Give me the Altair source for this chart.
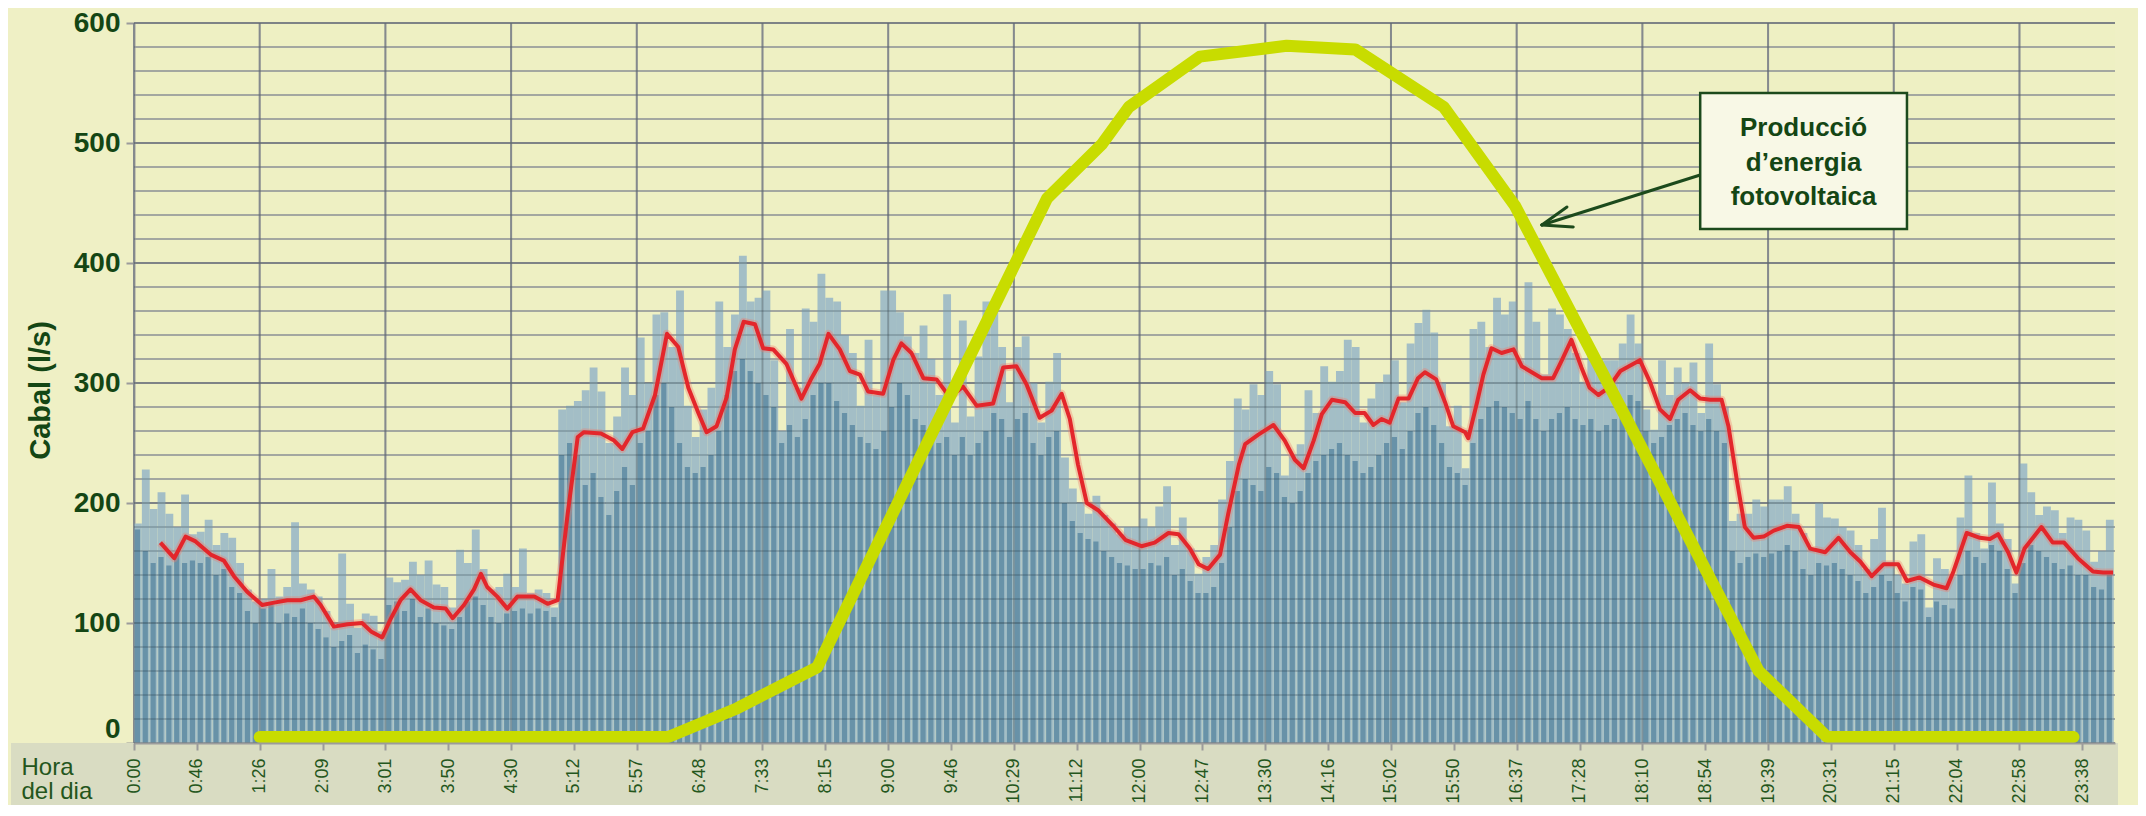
import altair as alt
import pandas as pd

# ---------------- data ----------------
time_labels = ["0:00", "0:46", "1:26", "2:09", "3:01", "3:50", "4:30", "5:12",
               "5:57", "6:48", "7:33", "8:15", "9:00", "9:46", "10:29", "11:12",
               "12:00", "12:47", "13:30", "14:16", "15:02", "15:50", "16:37", "17:28",
               "18:10", "18:54", "19:39", "20:31", "21:15", "22:04", "22:58", "23:38"]

# flow spikes (light bars), 8 readings per label interval
peak = [183, 228, 195, 209, 191, 180, 207, 174,
        176, 186, 165, 175, 171, 150, 128, 118,
        120, 145, 122, 130, 184, 133, 128, 122,
        110, 96, 158, 116, 96, 108, 106, 93,
        138, 134, 136, 151, 140, 152, 132, 130,
        113, 161, 150, 178, 145, 128, 130, 141,
        130, 162, 125, 128, 125, 113, 278, 281,
        285, 294, 313, 293, 250, 272, 313, 290,
        338, 300, 357, 359, 330, 377, 281, 255,
        278, 296, 368, 330, 357, 406, 368, 371,
        377, 319, 260, 345, 296, 362, 351, 391,
        371, 368, 340, 325, 281, 336, 290, 377,
        377, 359, 339, 325, 348, 320, 290, 374,
        267, 352, 272, 322, 368, 362, 330, 284,
        330, 339, 300, 267, 301, 325, 238, 212,
        200, 191, 206, 190, 183, 174, 180, 180,
        187, 180, 197, 214, 165, 188, 162, 141,
        155, 165, 203, 235, 287, 278, 299, 290,
        310, 299, 223, 240, 249, 294, 275, 314,
        301, 310, 336, 330, 267, 287, 300, 307,
        319, 284, 333, 350, 361, 342, 300, 264,
        281, 229, 345, 351, 330, 371, 357, 368,
        319, 384, 351, 307, 362, 357, 345, 325,
        301, 330, 320, 319, 319, 333, 357, 333,
        278, 261, 319, 290, 313, 300, 317, 275,
        333, 299, 280, 185, 191, 191, 203, 197,
        203, 203, 214, 191, 175, 162, 200, 188,
        187, 180, 177, 165, 145, 170, 196, 151,
        140, 133, 168, 174, 113, 154, 145, 139,
        188, 223, 175, 162, 217, 183, 170, 133,
        233, 209, 190, 197, 194, 175, 188, 186,
        177, 151, 160, 186]

# flow body (dark bars)
body = [178, 160, 150, 155, 148, 158, 150, 152,
        150, 155, 140, 145, 130, 125, 110, 100,
        112, 115, 100, 108, 105, 112, 100, 95,
        88, 80, 85, 90, 75, 82, 78, 70,
        115, 118, 110, 120, 105, 112, 100, 98,
        95, 105, 118, 122, 115, 105, 100, 108,
        110, 112, 108, 112, 110, 105, 240, 250,
        240, 215, 225, 205, 190, 210, 230, 215,
        250, 260, 290, 300, 280, 250, 230, 225,
        230, 240, 260, 290, 310, 320, 310, 300,
        290, 280, 250, 265, 255, 270, 290, 300,
        300, 285, 275, 265, 255, 250, 245, 260,
        280, 300, 290, 270, 265, 260, 250, 255,
        240, 255, 240, 250, 260, 275, 270, 255,
        270, 275, 250, 240, 255, 260, 200, 185,
        175, 170, 168, 160, 155, 150, 148, 145,
        145, 150, 148, 155, 140, 145, 135, 125,
        125, 130, 150, 180, 210, 220, 215, 210,
        230, 225, 205, 200, 210, 225, 235, 240,
        245, 250, 240, 235, 225, 230, 240, 250,
        255, 245, 260, 275, 280, 265, 250, 230,
        225, 215, 250, 270, 280, 285, 280, 275,
        270, 285, 270, 260, 270, 275, 280, 270,
        265, 270, 260, 265, 270, 275, 290, 285,
        260, 250, 255, 265, 270, 275, 265, 260,
        270, 260, 250, 160, 150, 155, 158, 155,
        158, 160, 165, 160, 145, 140, 150, 148,
        150, 145, 140, 135, 125, 130, 140, 135,
        125, 118, 130, 128, 105, 118, 115, 112,
        140, 160, 155, 150, 165, 160, 145, 125,
        150, 165, 160, 155, 150, 145, 148, 140,
        140, 130, 128, 140]

# moving average (red line): position in label units, value
red_t = [0.42, 0.64, 0.82, 0.98, 1.22, 1.43, 1.59, 1.80, 2.04, 2.23, 2.44, 2.65, 2.86, 2.97,
         3.18, 3.40, 3.63, 3.77, 3.95, 4.08, 4.24, 4.40, 4.56, 4.77, 4.96, 5.07, 5.25, 5.41,
         5.52, 5.62, 5.78, 5.94, 6.10, 6.37, 6.58, 6.74, 6.90, 7.06, 7.16, 7.43, 7.64, 7.77,
         7.93, 8.10, 8.29, 8.48, 8.66, 8.82, 8.98, 9.11, 9.27, 9.43, 9.56, 9.70, 9.88, 10.01,
         10.17, 10.38, 10.62, 10.78, 10.91, 11.05, 11.23, 11.39, 11.55, 11.68, 11.92, 12.08,
         12.21, 12.37, 12.56, 12.77, 12.98, 13.19, 13.41, 13.67, 13.83, 14.04, 14.20, 14.41,
         14.60, 14.76, 14.89, 15.02, 15.16, 15.34, 15.58, 15.78, 16.03, 16.24, 16.46, 16.62,
         16.80, 16.94, 17.09, 17.28, 17.41, 17.58, 17.68, 17.89, 18.13, 18.31, 18.47, 18.61,
         18.77, 18.90, 19.06, 19.27, 19.43, 19.58, 19.72, 19.85, 19.98, 20.12, 20.28, 20.43,
         20.54, 20.72, 20.86, 20.99, 21.18, 21.23, 21.37, 21.47, 21.60, 21.76, 21.95, 22.08,
         22.24, 22.40, 22.58, 22.72, 22.87, 23.03, 23.16, 23.30, 23.46, 23.65, 23.96, 24.12,
         24.28, 24.44, 24.57, 24.76, 24.92, 25.08, 25.26, 25.37, 25.50, 25.63, 25.77, 25.93,
         26.09, 26.30, 26.49, 26.67, 26.91, 27.12, 27.31, 27.47, 27.65, 27.84, 28.07, 28.21,
         28.41, 28.63, 28.84, 28.95, 29.16, 29.37, 29.53, 29.66, 29.82, 29.95, 30.08, 30.35,
         30.53, 30.71, 30.93, 31.17, 31.33, 31.49]
red_v = [167, 154, 172, 168, 157, 152, 139, 126, 115, 117, 119, 119, 122, 115,
         97, 99, 100, 93, 88, 103, 119, 128, 119, 113, 112, 104, 115, 128,
         141, 130, 122, 112, 122, 122, 116, 119, 191, 255, 259, 258, 252, 245,
         259, 262, 290, 341, 330, 296, 275, 259, 264, 288, 328, 351, 349, 329,
         328, 316, 287, 304, 316, 341, 328, 310, 307, 293, 291, 319,
         333, 325, 304, 303, 288, 297, 281, 283, 313, 314, 299, 271,
         277, 291, 270, 232, 200, 194, 181, 169, 164, 167, 175, 174,
         162, 149, 145, 157, 191, 232, 249, 257, 265, 252, 236, 229,
         252, 274, 286, 284, 275, 275, 265, 270, 267, 287, 287, 304,
         309, 303, 284, 264, 259, 254, 284, 307, 329, 325, 328, 314,
         309, 304, 304, 319, 336, 313, 296, 290, 296, 310, 319, 301,
         278, 270, 286, 294, 287, 286, 286, 264, 220, 180, 171, 172,
         177, 181, 180, 162, 159, 171, 159, 151, 139, 149, 149, 135,
         138, 132, 129, 143, 175, 171, 170, 174, 159, 142, 162, 180,
         167, 167, 154, 143, 142, 142]

# photovoltaic production (green line)
green_t = [2.0, 8.5, 9.6, 10.87, 14.53, 15.4, 15.83, 16.96, 18.34, 19.43, 20.84, 21.97,
           25.85, 26.94, 30.86]
green_v = [5, 5, 29, 63, 454, 499, 530, 572, 581, 578, 530, 448, 60, 5, 5]

grid_values = list(range(0, 620, 20))
y_labels = list(range(0, 700, 100))
vgrid_t = list(range(0, 32, 2))

# annotation (label units / l/s)
box_x, box_x2, box_y, box_y2 = 24.92, 28.21, 541.7, 428.3
box_lines = ["Producció", "d’energia", "fotovoltaica"]
box_line_y = [512.2, 483.3, 455.3]
arrow_x = [24.92, 22.40, 22.40]
arrow_y = [473.3, 431.7, 431.7]
arrow_x2 = [22.40, 22.80, 22.90]
arrow_y2 = [431.7, 446.7, 430.0]

# ---------------- styling ----------------
W, H = 1981, 720
XMAX = 31.52
FONT = "Liberation Sans, Arial, sans-serif"
DKGREEN = "#144614"
LBLGREEN = "#24561c"
GRAY = "#9b9b9b"
BG = "#eff0c5"
PLOTBG = "#eef0c3"
BAND = "#d9dcc2"
LIGHT = "#a3bec6"
DARK = "#6892a8"

xs = alt.Scale(domain=[0, XMAX], nice=False, zero=False)
ys = alt.Scale(domain=[0, 600], nice=False, zero=True)

label_expr = "[" + ",".join("'%s'" % s for s in time_labels) + "][datum.value]"

xaxis = alt.Axis(values=list(range(len(time_labels))), labelExpr=label_expr, labelAngle=270,
                 labelFont=FONT, labelFontSize=18, labelColor=LBLGREEN, labelPadding=8,
                 labelOverlap=False, labelFlush=False, labelBound=False,
                 tickColor=GRAY, tickSize=7, tickWidth=2, domainColor=GRAY, domainWidth=2,
                 grid=False, zindex=1,
                 title=["Hora", "del dia"], titleFont=FONT, titleFontSize=24,
                 titleFontWeight="normal", titleColor=LBLGREEN, titleAlign="left",
                 titleBaseline="top", titleX=-113, titleY=12, titleLineHeight=24)

yaxis = alt.Axis(values=y_labels, grid=False, title="Cabal (l/s)",
                 labelFont=FONT, labelFontSize=28, labelFontWeight="bold", labelColor=DKGREEN,
                 labelPadding=6,
                 labelBaseline={"condition": {"test": "datum.value === 0", "value": "bottom"},
                                "value": "middle"},
                 tickColor=GRAY, tickSize=8, tickWidth=2, domainColor=GRAY, domainWidth=2,
                 titleFont=FONT, titleFontSize=29, titleFontWeight="bold", titleColor=DKGREEN,
                 titleX=-94, titleY=367, titleAlign="center", titleBaseline="middle")


def X(field):
    return alt.X(field, scale=xs, axis=xaxis)


def Y(field):
    return alt.Y(field, scale=ys, axis=yaxis)


layers = []

# axis band under the plot
layers.append(alt.Chart(pd.DataFrame({"k": [0]})).mark_rect(color=BAND).encode(
    x=alt.value(-123), x2=alt.value(1984), y=alt.value(720), y2=alt.value(782)))


def hrules(vals, color, width, opacity=1.0):
    return alt.Chart(pd.DataFrame({"v": vals})).mark_rule(
        color=color, strokeWidth=width, opacity=opacity).encode(y=Y("v:Q"))


def vrules(vals, color, width, opacity=1.0):
    return alt.Chart(pd.DataFrame({"t": vals})).mark_rule(
        color=color, strokeWidth=width, opacity=opacity).encode(x=X("t:Q"))


major = [v for v in grid_values if v % 100 == 0]
minor = [v for v in grid_values if v % 100 != 0]

# grid under the bars
layers.append(hrules(minor, "#b9b9b9", 1.5))
layers.append(hrules(major, "#a6a6a6", 2.2))
layers.append(vrules(vgrid_t, "#adadad", 2))

bars = pd.DataFrame({"slot": list(range(len(peak))), "peak": peak, "body": body})

layers.append(alt.Chart(bars).transform_calculate(
    t="datum.slot / 8", t2="datum.slot / 8 + 0.125").mark_rect(color=LIGHT).encode(
    x=X("t:Q"), x2="t2:Q", y=Y("peak:Q"), y2=alt.datum(0)))

layers.append(alt.Chart(bars).transform_calculate(
    a="datum.slot / 8 + 0.014", b="datum.slot / 8 + 0.096").mark_rect(color=DARK).encode(
    x=X("a:Q"), x2="b:Q", y=Y("body:Q"), y2=alt.datum(0)))

# grid overlay on top of the bars
layers.append(hrules(minor, "#22333d", 1.5, 0.28))
layers.append(hrules(major, "#22333d", 2.2, 0.3))
layers.append(vrules(vgrid_t, "#2a3a44", 2, 0.3))

red = pd.DataFrame({"t": red_t, "v": red_v})
layers.append(alt.Chart(red).mark_line(color="#f07a6a", strokeWidth=8, opacity=0.35,
                                       strokeJoin="round").encode(x=X("t:Q"), y=Y("v:Q")))
layers.append(alt.Chart(red).mark_line(color="#e3262b", strokeWidth=4,
                                       strokeJoin="round").encode(x=X("t:Q"), y=Y("v:Q")))

green = pd.DataFrame({"t": green_t, "v": green_v})
layers.append(alt.Chart(green).mark_line(color="#c8dc00", strokeWidth=12, strokeCap="round",
                                         strokeJoin="round").encode(x=X("t:Q"), y=Y("v:Q")))

arrow = pd.DataFrame({"x": arrow_x, "y": arrow_y, "x2": arrow_x2, "y2": arrow_y2})
layers.append(alt.Chart(arrow).mark_rule(color="#1c4a1c", strokeWidth=3, strokeCap="round").encode(
    x=X("x:Q"), x2="x2:Q", y=Y("y:Q"), y2="y2:Q"))

box = pd.DataFrame({"x": [box_x], "x2": [box_x2], "y": [box_y], "y2": [box_y2]})
layers.append(alt.Chart(box).mark_rect(fill="#f8f8e6", stroke="#1c4a1c", strokeWidth=2.5).encode(
    x=X("x:Q"), x2="x2:Q", y=Y("y:Q"), y2="y2:Q"))

box_text = pd.DataFrame({"label": box_lines, "cy": box_line_y})
layers.append(alt.Chart(box_text).transform_calculate(
    cx="%f" % ((box_x + box_x2) / 2)).mark_text(
    font=FONT, fontSize=26, fontWeight="bold", color=DKGREEN, align="center",
    baseline="middle").encode(x=X("cx:Q"), y=Y("cy:Q"), text="label:N"))

chart = alt.layer(*layers).properties(
    width=W, height=H,
    autosize=alt.AutoSizeParams(type="none"),
    padding={"left": 126, "top": 15, "right": 23, "bottom": 62},
    background=BG,
).configure_view(fill=PLOTBG, stroke=None)

chart.save("out.html", embed_options={"renderer": "svg", "actions": False})
